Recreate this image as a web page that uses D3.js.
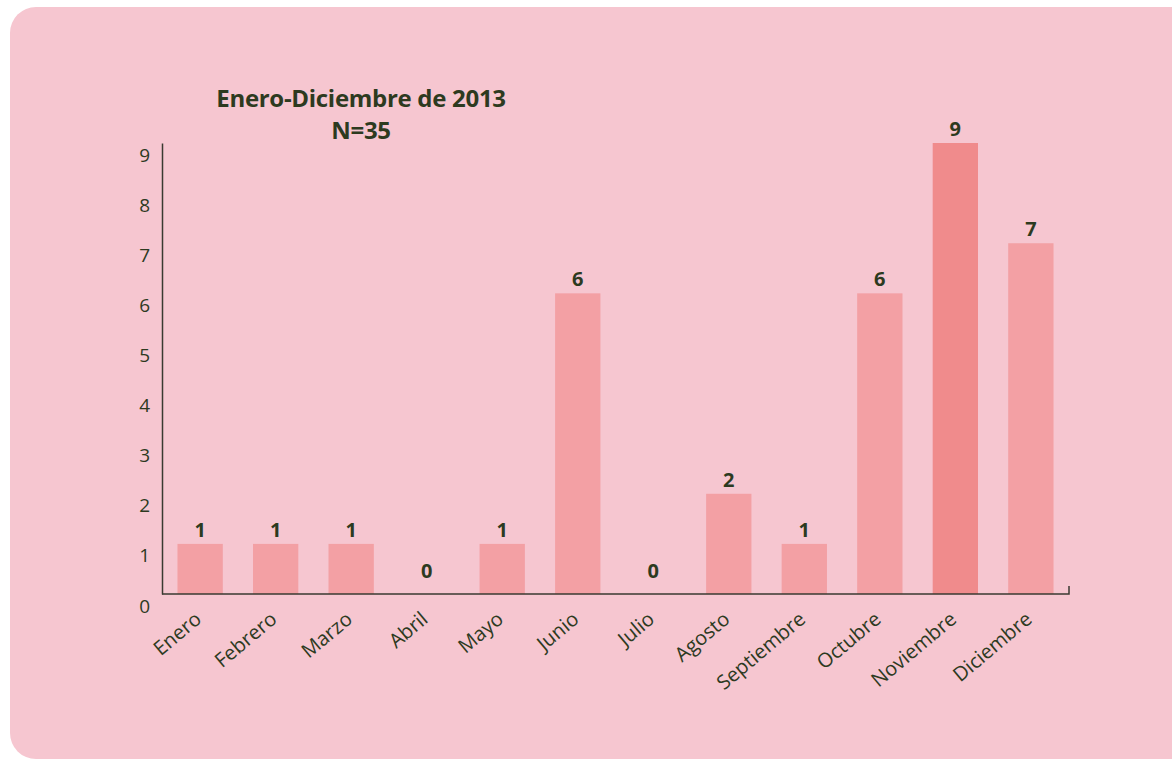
<!DOCTYPE html>
<html>
<head>
<meta charset="utf-8">
<script src="https://cdn.jsdelivr.net/npm/d3@7"></script>
<style>
  html, body { margin: 0; padding: 0; background: #ffffff; }
  svg { display: block; }
  text { font-family: "Open Sans", "Noto Sans", sans-serif; fill: #2d3a1f; }
</style>
</head>
<body>
<svg width="1172" height="764"></svg>
<script>
var months = ["Enero", "Febrero", "Marzo", "Abril", "Mayo", "Junio", "Julio",
              "Agosto", "Septiembre", "Octubre", "Noviembre", "Diciembre"];
var counts = [1, 1, 1, 0, 1, 6, 0, 2, 1, 6, 9, 7];
var yTicks = [0, 1, 2, 3, 4, 5, 6, 7, 8, 9];
var titleLines = ["Enero-Diciembre de 2013", "N=35"];

var svg = d3.select("svg");

// pink page panel
svg.append("rect")
  .attr("x", 10).attr("y", 7)
  .attr("width", 1190).attr("height", 752)
  .attr("rx", 26).attr("ry", 26)
  .attr("fill", "#f6c6d0");

var xScale = d3.scaleBand().domain(months).range([162, 1069])
  .paddingInner(0.4).paddingOuter(0.205);
var yScale = d3.scaleLinear().domain([0, 9]).range([594, 143]);

// title
svg.selectAll(".title")
  .data(titleLines)
  .enter()
  .append("text")
  .attr("class", "title")
  .attr("x", 361)
  .attr("y", function (d, i) { return 107 + i * 32; })
  .attr("text-anchor", "middle")
  .style("font-size", "24px")
  .style("font-weight", "bold")
  .style("letter-spacing", "-0.3px")
  .text(function (d) { return d; });

// bars
svg.selectAll(".bar")
  .data(counts)
  .enter()
  .append("rect")
  .attr("class", "bar")
  .attr("x", function (d, i) { return xScale(months[i]); })
  .attr("y", function (d) { return yScale(d); })
  .attr("width", xScale.bandwidth())
  .attr("height", function (d) { return yScale(0) - yScale(d); })
  .attr("fill", function (d, i) { return months[i] == "Noviembre" ? "#f08b8c" : "#f3a0a4"; });

// value labels
svg.selectAll(".val")
  .data(counts)
  .enter()
  .append("text")
  .attr("class", "val")
  .attr("x", function (d, i) { return xScale(months[i]) + xScale.bandwidth() / 2; })
  .attr("y", function (d) { return yScale(d) - (d == 0 ? 16 : 7); })
  .attr("text-anchor", "middle")
  .style("font-size", "20px")
  .style("font-weight", "bold")
  .text(function (d) { return d; });

// y axis
var yAxis = svg.append("g")
  .attr("transform", "translate(162,0)")
  .call(d3.axisLeft(yScale).tickValues(yTicks).tickSize(0).tickPadding(12));
yAxis.attr("font-size", null).attr("font-family", null);
yAxis.select(".domain").attr("stroke", "#3a3a30").attr("stroke-width", 1.5);
yAxis.selectAll("text")
  .attr("dy", "0.95em")
  .style("font-size", "19px")
  .attr("fill", "#2d3a1f");

// x axis
var xAxis = svg.append("g")
  .attr("transform", "translate(0,594)")
  .call(d3.axisBottom(xScale).tickSize(0).tickSizeOuter(0));
xAxis.attr("font-size", null).attr("font-family", null);
xAxis.select(".domain")
  .attr("d", "M162,0H1069V-8")
  .attr("fill", "none")
  .attr("stroke", "#3a3a30").attr("stroke-width", 1.5);
xAxis.selectAll("text")
  .attr("text-anchor", "end")
  .attr("transform", "translate(-2,22) rotate(-40)")
  .attr("dy", "0.35em")
  .attr("y", 0)
  .style("font-size", "20px")
  .attr("fill", "#2d3a1f");
</script>
</body>
</html>
